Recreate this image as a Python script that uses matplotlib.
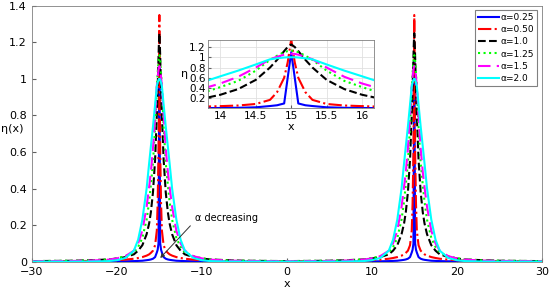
import numpy as np
import matplotlib
matplotlib.use("Agg")
import matplotlib.pyplot as plt

# distancia al centro del pico (el perfil es simetrico en ambos picos)
dist = [0, 0.05, 0.1, 0.2, 0.3, 0.5, 0.75, 1.0, 1.2, 1.5, 2.0, 2.5, 3.0, 4.0, 5.0, 6.0, 8.0, 10.0, 15.0]
centers = [-15, 15]

alphas = ["0.25", "0.50", "1.0", "1.25", "1.5", "2.0"]
eta_025 = [1.10, 0.60, 0.10, 0.065, 0.05, 0.025, 0.016, 0.012, 0.010, 0.008, 0.005, 0.004, 0.003, 0.002, 0.0015, 0.001, 0.0008, 0.0006, 0.0004]
eta_050 = [1.35, 0.90, 0.60, 0.32, 0.17, 0.09, 0.06, 0.048, 0.040, 0.033, 0.025, 0.020, 0.016, 0.011, 0.008, 0.006, 0.004, 0.003, 0.002]
eta_100 = [1.25, 1.20, 1.12, 0.95, 0.80, 0.56, 0.38, 0.27, 0.21, 0.15, 0.09, 0.06, 0.04, 0.025, 0.017, 0.012, 0.008, 0.005, 0.003]
eta_125 = [1.13, 1.12, 1.10, 1.03, 0.95, 0.74, 0.54, 0.42, 0.33, 0.23, 0.13, 0.08, 0.05, 0.03, 0.019, 0.012, 0.007, 0.005, 0.003]
eta_150 = [1.07, 1.065, 1.05, 1.01, 0.96, 0.80, 0.62, 0.49, 0.41, 0.30, 0.17, 0.10, 0.06, 0.03, 0.018, 0.011, 0.006, 0.004, 0.002]
eta_200 = [1.00, 1.00, 0.995, 0.98, 0.96, 0.86, 0.74, 0.63, 0.54, 0.40, 0.23, 0.12, 0.06, 0.02, 0.008, 0.003, 0.0005, 0.0, 0.0]

series = [eta_025, eta_050, eta_100, eta_125, eta_150, eta_200]
colors = ["#0000ff", "#ff0000", "#000000", "#00ff00", "#ff00ff", "#00ffff"]
styles = ["-", "-.", "--", ":", (0, (6, 3)), "-"]

xticks = [-30, -20, -10, 0, 10, 20, 30]
yticks = [0, 0.2, 0.4, 0.6, 0.8, 1.0, 1.2, 1.4]
ytick_labels = ["0", "0.2", "0.4", "0.6", "0.8", "1", "1.2", "1.4"]
in_xticks = [14, 14.5, 15, 15.5, 16]
in_yticks = [0.2, 0.4, 0.6, 0.8, 1.0, 1.2]
in_ylabels = ["0.2", "0.4", "0.6", "0.8", "1", "1.2"]


def full_curve(vals):
    d = np.array(dist)
    v = np.array(vals)
    xs, ys = [], []
    # tramo izquierdo del pico -15, tramo interior, y luego pico +15
    xs += list(-15 - d[::-1]); ys += list(v[::-1])
    xs += list(-15 + d[1:]); ys += list(v[1:])
    xs += list(15 - d[::-1][1:]); ys += list(v[::-1][1:])
    xs += list(15 + d[1:]); ys += list(v[1:])
    return np.array(xs), np.array(ys)


plt.rcParams["font.family"] = ["DejaVu Sans"]
plt.rcParams["font.size"] = 7.5

fig = plt.figure(figsize=(5.5, 2.93), dpi=100)
ax = fig.add_axes([0.058, 0.107, 0.927, 0.873])

for vals, c, ls, a in zip(series, colors, styles, alphas):
    x, y = full_curve(vals)
    ax.plot(x, y, color=c, linestyle=ls, linewidth=1.5, label="α=" + a)

ax.set_xlim(-30, 30)
ax.set_ylim(0, 1.4)
ax.set_xticks(xticks)
ax.set_yticks(yticks)
ax.set_yticklabels(ytick_labels)
ax.tick_params(direction="in", length=3, color="#606060", labelsize=8)
for s in ax.spines.values():
    s.set_color("#808080")
    s.set_linewidth(0.6)
ax.set_xlabel("x", fontsize=8, labelpad=2)
ax.set_ylabel("η(x)", fontsize=8, rotation=0, ha="left", va="center")
ax.yaxis.set_label_coords(-0.061, 0.52)

leg = ax.legend(loc="upper right", fontsize=6.5, handlelength=2.3, handletextpad=0.2,
                labelspacing=0.36, borderpad=0.35, borderaxespad=0, fancybox=False,
                framealpha=1, bbox_to_anchor=(0.991, 0.985))
leg.get_frame().set_edgecolor("#808080")
leg.get_frame().set_linewidth(0.8)

ax.annotate("α decreasing", xy=(-14.9, 0.02), xytext=(-10.8, 0.24),
            fontsize=7, va="center", ha="left",
            arrowprops=dict(arrowstyle="-|>", color="#303030", lw=0.7,
                            mutation_scale=6, shrinkA=2, shrinkB=0,
                            relpos=(0, 0.2)))

# inset
ins = fig.add_axes([0.379, 0.632, 0.301, 0.233])
for vals, c, ls in zip(series, colors, styles):
    x, y = full_curve(vals)
    ins.plot(x, y, color=c, linestyle=ls, linewidth=1.5)
ins.set_xlim(13.83, 16.17)
ins.set_ylim(0.015, 1.345)
ins.set_xticks(in_xticks)
ins.set_xticklabels(["14", "14.5", "15", "15.5", "16"])
ins.set_yticks(in_yticks)
ins.set_yticklabels(in_ylabels)
ins.grid(True, color="#e0e0e0", linewidth=0.6)
ins.set_axisbelow(True)
ins.tick_params(direction="in", length=2, color="#606060", labelsize=7.5, pad=2)
for s in ins.spines.values():
    s.set_color("#808080")
    s.set_linewidth(0.6)
ins.set_xlabel("x", fontsize=8, labelpad=1)
ins.set_ylabel("η", fontsize=8, rotation=0, labelpad=3, va="center")

fig.savefig("out.png", dpi=100)
